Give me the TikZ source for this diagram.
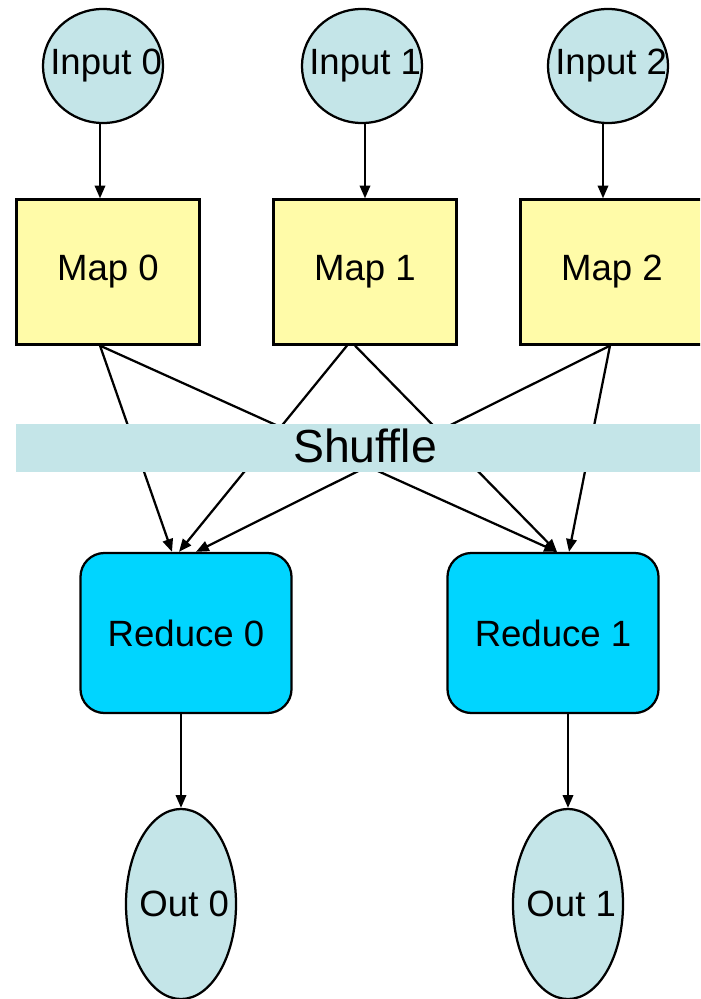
\documentclass[tikz,border=0pt]{standalone}
\usepackage{fontspec}
\setmainfont{Liberation Sans}
\usepackage{tikz}
\usetikzlibrary{positioning,arrows.meta,shapes.geometric}
\definecolor{paleblue}{HTML}{C4E5E8}
\definecolor{mapyellow}{HTML}{FFFBA8}
\definecolor{redcyan}{HTML}{00D5FF}

\begin{document}
\begin{tikzpicture}[x=0.025cm, y=-0.025cm, line width=1.6pt,
    >={Triangle[length=0.32cm,width=0.26cm]},
    every node/.style={font=\fontsize{26}{30}\selectfont},
    every label/.style={font=\fontsize{26}{30}\selectfont, inner sep=0pt},
    inbox/.style={ellipse, draw, fill=paleblue, minimum width=3cm, minimum height=2.85cm, inner sep=0pt},
    mapbox/.style={rectangle, draw, fill=mapyellow, minimum width=4.575cm, minimum height=3.625cm},
    redbox/.style={rectangle, rounded corners=0.6cm, draw, fill=redcyan, minimum width=5.275cm, minimum height=4cm},
    outbox/.style={ellipse, draw, fill=paleblue, minimum width=2.75cm, minimum height=4.75cm, inner sep=0pt}]
    \clip (0,0) rectangle (700,999);

    % Inputs
    \node[inbox, label={[xshift=0.08cm]center:Input 0}] (in0) at (103,66) {};
    \node[inbox, label={[xshift=0.08cm]center:Input 1}] (in1) at (362,66) {};
    \node[inbox, label={[xshift=0.08cm]center:Input 2}] (in2) at (608,66) {};

    % Map tasks
    \node[mapbox] (map0) at (108,272) {Map 0};
    \node[mapbox] (map1) at (365,272) {Map 1};
    \node[mapbox] (map2) at (612,272) {Map 2};

    % Reduce tasks
    \node[redbox] (red0) at (186,633) {Reduce 0};
    \node[redbox] (red1) at (553,633) {Reduce 1};

    % Outputs
    \node[outbox, label={[xshift=0.08cm]center:Out 0}] (out0) at (181,904) {};
    \node[outbox, label={[xshift=0.08cm]center:Out 1}] (out1) at (568,904) {};

    \draw[->] ([xshift=-0.075cm]in0.south) -- ([xshift=-0.075cm]in0.south |- map0.north);
    \draw[->] ([xshift=0.075cm]in1.south) -- ([xshift=0.075cm]in1.south |- map1.north);
    \draw[->] ([xshift=-0.125cm]in2.south) -- ([xshift=-0.125cm]in2.south |- map2.north);

    % Map to reduce
    \draw[->] ([xshift=-0.2cm]map0.south) -- ([xshift=-0.35cm]red0.north);
    \draw[->] ([xshift=-0.2cm]map0.south) -- ([xshift=0.1cm]red1.north);
    \draw[->] ([xshift=-0.45cm]map1.south) -- ([xshift=-0.175cm]red0.north);
    \draw[->] ([xshift=-0.25cm]map1.south) -- ([xshift=0.1cm]red1.north);
    \draw[->] ([xshift=-0.05cm]map2.south) -- ([xshift=0.25cm]red0.north);
    \draw[->] ([xshift=-0.05cm]map2.south) -- ([xshift=0.4cm]red1.north);

    % Shuffle bar over the lines
    \node[rectangle, fill=paleblue, minimum width=17.6cm, minimum height=1.175cm, inner sep=0pt] (shuffle) at (368,448) {};
    \node[font=\fontsize{33}{38}\selectfont] (shuftext) at (365,446) {Shuffle};

    \draw[->] (out0 |- red0.south) -- (out0.north);
    \draw[->] (out1 |- red1.south) -- (out1.north);
\end{tikzpicture}
\end{document}
